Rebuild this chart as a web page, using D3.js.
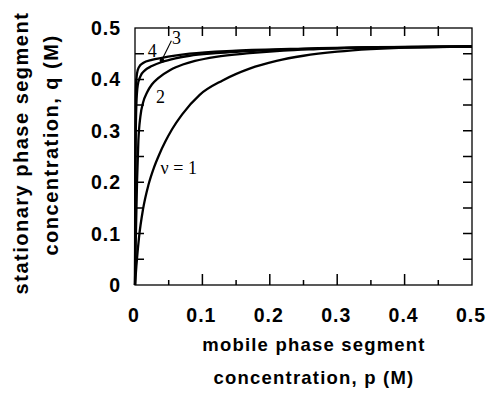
<!DOCTYPE html>
<html>
<head>
<meta charset="utf-8">
<script src="https://cdn.jsdelivr.net/npm/d3@7"></script>
<style>
  body { margin: 0; background: #fff; }
  .tick-label { font-family: "Liberation Sans", Arial, sans-serif; font-weight: bold; font-size: 19.5px; letter-spacing: 1px; }
  .xtitle { font-family: "Liberation Sans", Arial, sans-serif; font-weight: bold; font-size: 18.5px; letter-spacing: 1.2px; }
  .ytitle { font-family: "Liberation Sans", Arial, sans-serif; font-weight: bold; font-size: 20px; letter-spacing: 1.5px; }
  .curve-label { font-family: "Liberation Serif", "Times New Roman", serif; font-size: 18px; }
</style>
</head>
<body>
<script>
// isotherms, [p, q] in M
const curve1 = [[0,0],[0.002,0.036],[0.006,0.093],[0.012,0.148],[0.02,0.195],[0.028,0.228],[0.036,0.254],[0.045,0.279],[0.055,0.303],[0.07,0.332],[0.096,0.37],[0.13,0.398],[0.17,0.421],[0.21,0.436],[0.25,0.446],[0.3,0.454],[0.35,0.459],[0.4,0.462],[0.5,0.464]];
const curve2 = [[0,0],[0.001,0.08],[0.003,0.2],[0.005,0.28],[0.008,0.328],[0.012,0.355],[0.018,0.375],[0.025,0.39],[0.034,0.402],[0.053,0.419],[0.071,0.429],[0.089,0.436],[0.12,0.444],[0.17,0.451],[0.22,0.456],[0.27,0.459],[0.33,0.462],[0.5,0.464]];
const curve3 = [[0,0],[0.0005,0.15],[0.001,0.28],[0.002,0.35],[0.004,0.388],[0.008,0.406],[0.015,0.418],[0.025,0.426],[0.04,0.434],[0.06,0.441],[0.081,0.446],[0.12,0.451],[0.2,0.457],[0.3,0.461],[0.5,0.464]];
const curve4 = [[0,0],[0.0003,0.2],[0.001,0.36],[0.002,0.4],[0.004,0.418],[0.008,0.428],[0.012,0.432],[0.025,0.438],[0.04,0.442],[0.081,0.45],[0.15,0.456],[0.25,0.46],[0.5,0.464]];

const curveNames = ["\u03bd = 1", "2", "3", "4"];
const xTicks = [0, 0.1, 0.2, 0.3, 0.4, 0.5];
const yTicks = [0, 0.1, 0.2, 0.3, 0.4, 0.5];
const minorTicks = [0.05, 0.15, 0.25, 0.35, 0.45];

const width = 488, height = 397;

const x = d3.scaleLinear().domain([0, 0.5]).range([135, 472]);
const y = d3.scaleLinear().domain([0, 0.5]).range([285, 28]);

const svg = d3.select("body").append("svg")
  .attr("width", width)
  .attr("height", height);

svg.append("rect").attr("width", width).attr("height", height).attr("fill", "#fff");

// frame
svg.append("rect")
  .attr("x", x(0)).attr("y", y(0.5))
  .attr("width", x(0.5) - x(0)).attr("height", y(0) - y(0.5))
  .attr("fill", "none").attr("stroke", "#000").attr("stroke-width", 1.3);

// inward ticks on all four sides, one path
const inner = xTicks.slice(1, 5);
const sideTicks = yTicks.slice(1, 5).concat(minorTicks);
const tp = d3.path();
inner.forEach(d => { tp.moveTo(x(d), y(0)); tp.lineTo(x(d), y(0) - 11); });
minorTicks.forEach(d => { tp.moveTo(x(d), y(0)); tp.lineTo(x(d), y(0) - 5); });
inner.concat(minorTicks).forEach(d => { tp.moveTo(x(d), y(0.5) - 2); tp.lineTo(x(d), y(0.5) + 8); });
sideTicks.forEach(d => {
  tp.moveTo(x(0), y(d)); tp.lineTo(x(0) + 9, y(d));
  tp.moveTo(x(0.5), y(d)); tp.lineTo(x(0.5) - 9, y(d));
});
svg.append("path")
  .attr("d", tp.toString())
  .attr("fill", "none")
  .attr("stroke", "#000")
  .attr("stroke-width", 1.5);

// tick labels
const tickFmt = d => d === 0 ? "0" : d3.format(".1f")(d);

svg.selectAll(".xlab").data(xTicks).enter().append("text")
  .attr("class", "tick-label")
  .attr("x", d => x(d) - 1).attr("y", 322)
  .attr("text-anchor", "middle")
  .text(tickFmt);

svg.selectAll(".ylab").data(yTicks).enter().append("text")
  .attr("class", "tick-label")
  .attr("x", 121).attr("y", d => y(d) + 7)
  .attr("text-anchor", "end")
  .text(tickFmt);

// axis titles
svg.append("text").attr("class", "xtitle")
  .attr("x", 314).attr("y", 351).attr("text-anchor", "middle")
  .text("mobile phase segment");
svg.append("text").attr("class", "xtitle")
  .attr("x", 314).attr("y", 384).attr("text-anchor", "middle")
  .text("concentration, p (M)");

svg.append("text").attr("class", "ytitle")
  .attr("transform", "translate(28,153) rotate(-90)").attr("text-anchor", "middle")
  .text("stationary phase segment");
svg.append("text").attr("class", "ytitle")
  .attr("transform", "translate(58,145) rotate(-90)").attr("text-anchor", "middle")
  .text("concentration, q (M)");

// curves
const line = d3.line()
  .x(d => x(d[0]))
  .y(d => y(d[1]))
  .curve(d3.curveMonotoneX);

svg.selectAll(".iso").data([curve1, curve2, curve3, curve4]).enter().append("path")
  .attr("d", line)
  .attr("fill", "none")
  .attr("stroke", "#000")
  .attr("stroke-width", 2.3);

// curve labels (baseline positions in data units)
const labelPos = [[0.038, 0.215], [0.031, 0.355], [0.055, 0.469], [0.019, 0.443]];
svg.selectAll(".clab").data(curveNames).enter().append("text")
  .attr("class", "curve-label")
  .attr("x", (d, i) => x(labelPos[i][0]))
  .attr("y", (d, i) => y(labelPos[i][1]))
  .text(d => d);

// leader for curve 3
svg.append("line")
  .attr("x1", x(0.054)).attr("y1", y(0.475))
  .attr("x2", x(0.04)).attr("y2", y(0.438))
  .attr("stroke", "#000").attr("stroke-width", 1.1);
svg.append("circle")
  .attr("cx", x(0.04)).attr("cy", y(0.437)).attr("r", 2.3).attr("fill", "#000");
</script>
</body>
</html>
